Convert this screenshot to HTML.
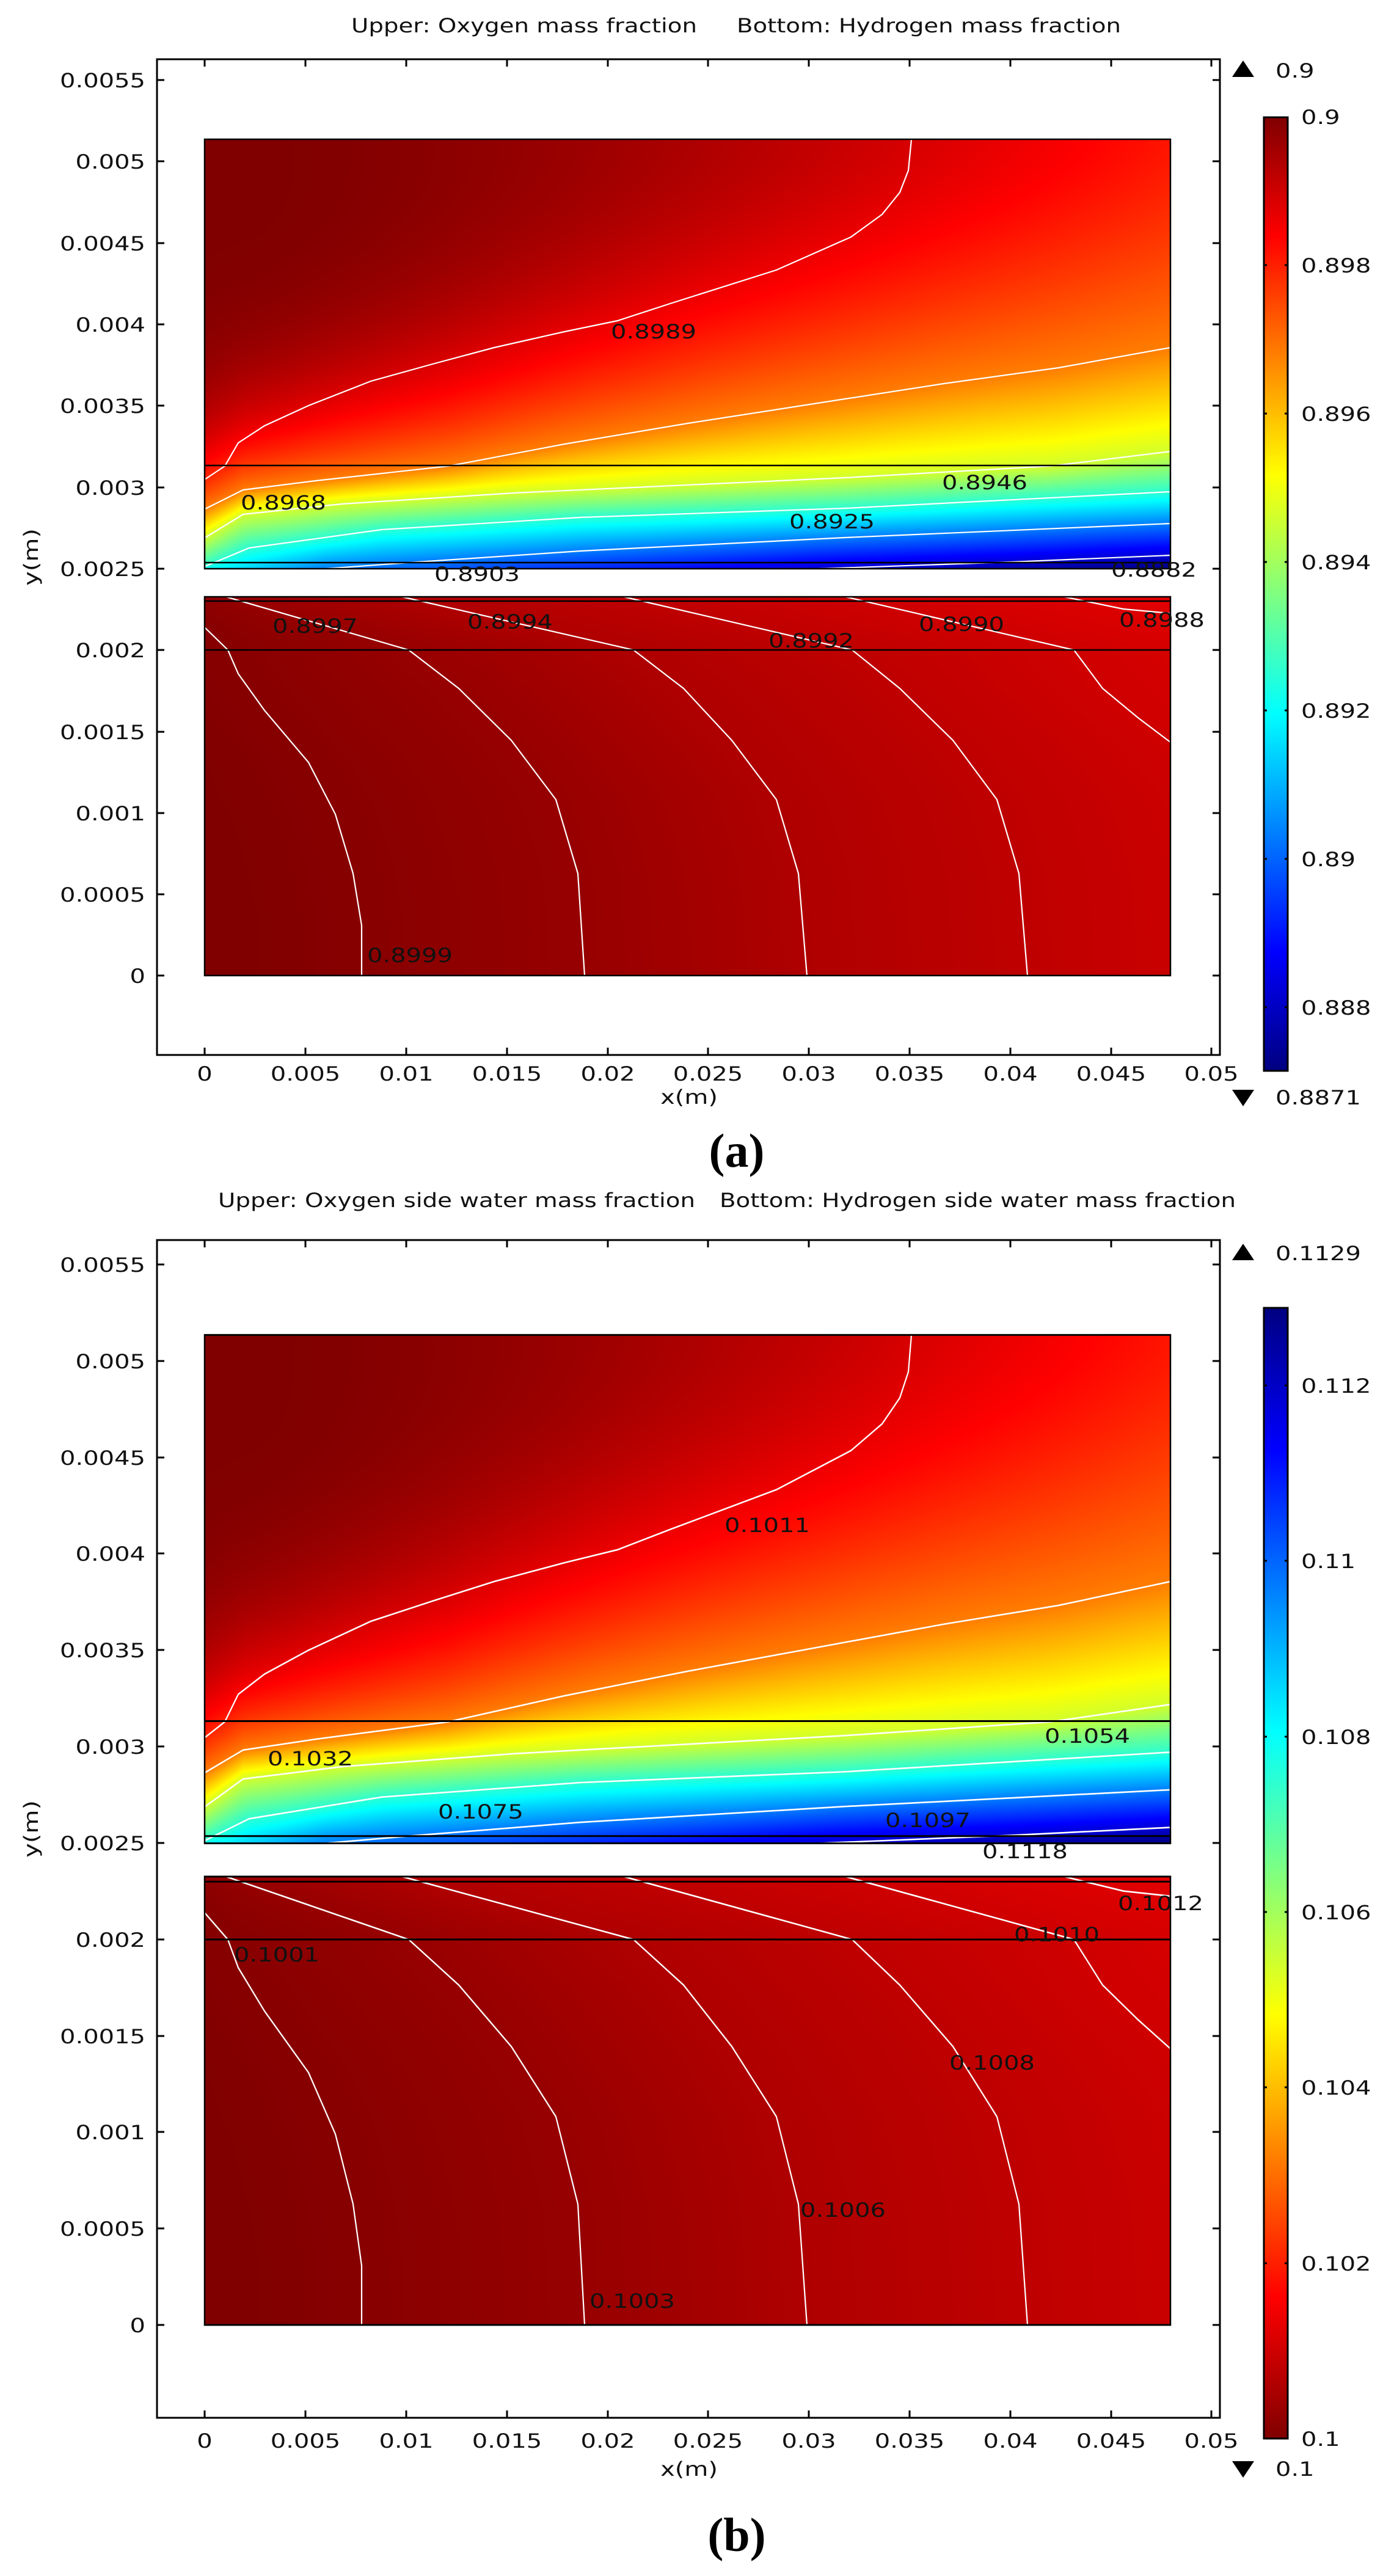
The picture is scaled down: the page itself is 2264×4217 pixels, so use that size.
<!DOCTYPE html>
<html><head><meta charset="utf-8">
<style>
html,body{margin:0;padding:0;background:#fff;}
#wrap{position:relative;width:2264px;height:4217px;overflow:hidden;background:#fff;}
canvas,svg{position:absolute;left:0;top:0;}
text{font-family:"DejaVu Sans","Liberation Sans",sans-serif;fill:#111;}
.t{font-size:32px;}
.cap{font-family:"Liberation Serif",serif;font-weight:bold;font-size:78px;fill:#000;}
</style></head>
<body><div id="wrap">
<canvas id="cv" width="2264" height="4217"></canvas>
<svg width="2264" height="4217" viewBox="0 0 2264 4217" xmlns="http://www.w3.org/2000/svg">
<defs>
<linearGradient id="jetA" x1="0" y1="0" x2="0" y2="1">
<stop offset="0" stop-color="#800000"/><stop offset="0.125" stop-color="#ff0000"/><stop offset="0.375" stop-color="#ffff00"/><stop offset="0.625" stop-color="#00ffff"/><stop offset="0.875" stop-color="#0000ff"/><stop offset="1" stop-color="#000080"/>
</linearGradient>
<linearGradient id="jetB" x1="0" y1="1" x2="0" y2="0">
<stop offset="0" stop-color="#800000"/><stop offset="0.125" stop-color="#ff0000"/><stop offset="0.375" stop-color="#ffff00"/><stop offset="0.625" stop-color="#00ffff"/><stop offset="0.875" stop-color="#0000ff"/><stop offset="1" stop-color="#000080"/>
</linearGradient>
<g id="cont" fill="none" stroke="#fff" stroke-width="2.2">
<polyline points="335,785 368,763 390,725 433,697 505,664 607,624 708,596 809,569 924,543 1011,525 1097,497 1271,442 1393,388 1444,351 1473,315 1487,279 1492,228"/>
<polyline points="336,833 398,802 517,787 734,763 924,727 1126,693 1300,666 1545,628 1733,602 1916,569"/>
<polyline points="336,880 398,842 560,825 842,807 1384,782 1720,763 1916,739"/>
<polyline points="336,927 408,897 625,867 950,847 1384,832 1916,805"/>
<polyline points="533,931 669,921 950,902 1384,880 1916,857"/>
<polyline points="1341,931 1655,920 1916,909"/>
<polyline points="335,1027 373,1064 390,1103 433,1163 505,1248 549,1333 578,1430 592,1515 592,1597"/>
<polyline points="370,977 669,1064 751,1127 837,1212 910,1309 946,1430 957,1597"/>
<polyline points="658,977 1037,1064 1119,1127 1198,1212 1271,1309 1307,1430 1321,1597"/>
<polyline points="1021,977 1395,1064 1473,1127 1560,1212 1632,1309 1668,1430 1682,1597"/>
<polyline points="1384,977 1758,1064 1805,1127 1863,1175 1916,1215"/>
<polyline points="1742,977 1839,997 1916,1004"/>
<g stroke="#000" stroke-width="2.5">
<line x1="335" y1="762" x2="1916" y2="762"/>
<line x1="335" y1="921" x2="1916" y2="921"/>
<line x1="335" y1="984" x2="1916" y2="984"/>
<line x1="335" y1="1064" x2="1916" y2="1064"/>
<rect x="335" y="228" width="1581" height="703"/>
<rect x="335" y="977" width="1581" height="620"/>
</g>
</g>
</defs>

<!-- ===== Panel a ===== -->
<text class="t" x="575" y="53" textLength="566" lengthAdjust="spacingAndGlyphs">Upper: Oxygen mass fraction</text>
<text class="t" x="1206" y="53" textLength="629" lengthAdjust="spacingAndGlyphs">Bottom: Hydrogen mass fraction</text>
<rect x="257" y="97" width="1740" height="1630" fill="none" stroke="#000" stroke-width="3"/>
<use href="#cont"/>
<g stroke="#000" stroke-width="3">
<path d="M257,131h12M257,264h12M257,398h12M257,531h12M257,664h12M257,798h12M257,931h12M257,1064h12M257,1198h12M257,1331h12M257,1464h12M257,1597h12"/>
<path d="M1997,131h-12M1997,264h-12M1997,398h-12M1997,531h-12M1997,664h-12M1997,798h-12M1997,931h-12M1997,1064h-12M1997,1198h-12M1997,1331h-12M1997,1464h-12M1997,1597h-12"/>
<path d="M335,1727v-12M500,1727v-12M665,1727v-12M830,1727v-12M995,1727v-12M1159,1727v-12M1324,1727v-12M1489,1727v-12M1654,1727v-12M1819,1727v-12M1983,1727v-12"/>
<path d="M335,97v12M500,97v12M665,97v12M830,97v12M995,97v12M1159,97v12M1324,97v12M1489,97v12M1654,97v12M1819,97v12M1983,97v12"/>
</g>
<g class="t" text-anchor="end">
<text transform="translate(238,143) scale(1.25,1)">0.0055</text>
<text transform="translate(238,276) scale(1.25,1)">0.005</text>
<text transform="translate(238,410) scale(1.25,1)">0.0045</text>
<text transform="translate(238,543) scale(1.25,1)">0.004</text>
<text transform="translate(238,676) scale(1.25,1)">0.0035</text>
<text transform="translate(238,810) scale(1.25,1)">0.003</text>
<text transform="translate(238,943) scale(1.25,1)">0.0025</text>
<text transform="translate(238,1076) scale(1.25,1)">0.002</text>
<text transform="translate(238,1210) scale(1.25,1)">0.0015</text>
<text transform="translate(238,1343) scale(1.25,1)">0.001</text>
<text transform="translate(238,1476) scale(1.25,1)">0.0005</text>
<text transform="translate(238,1609) scale(1.25,1)">0</text>
</g>
<g class="t" text-anchor="middle">
<text transform="translate(335,1769) scale(1.25,1)">0</text>
<text transform="translate(500,1769) scale(1.25,1)">0.005</text>
<text transform="translate(665,1769) scale(1.25,1)">0.01</text>
<text transform="translate(830,1769) scale(1.25,1)">0.015</text>
<text transform="translate(995,1769) scale(1.25,1)">0.02</text>
<text transform="translate(1159,1769) scale(1.25,1)">0.025</text>
<text transform="translate(1324,1769) scale(1.25,1)">0.03</text>
<text transform="translate(1489,1769) scale(1.25,1)">0.035</text>
<text transform="translate(1654,1769) scale(1.25,1)">0.04</text>
<text transform="translate(1819,1769) scale(1.25,1)">0.045</text>
<text transform="translate(1983,1769) scale(1.25,1)">0.05</text>
<text transform="translate(1128,1807) scale(1.25,1)">x(m)</text>
<text transform="translate(62,912) rotate(-90) scale(1.25,1)">y(m)</text>
</g>
<g class="t" text-anchor="middle" fill="#000">
<text transform="translate(1070,554) scale(1.25,1)">0.8989</text>
<text transform="translate(464,834) scale(1.25,1)">0.8968</text>
<text transform="translate(1612,801) scale(1.25,1)">0.8946</text>
<text transform="translate(1362,865) scale(1.25,1)">0.8925</text>
<text transform="translate(781,951) scale(1.25,1)">0.8903</text>
<text transform="translate(1889,944) scale(1.25,1)">0.8882</text>
<text transform="translate(516,1036) scale(1.25,1)">0.8997</text>
<text transform="translate(835,1029) scale(1.25,1)">0.8994</text>
<text transform="translate(1328,1060) scale(1.25,1)">0.8992</text>
<text transform="translate(1574,1033) scale(1.25,1)">0.8990</text>
<text transform="translate(1902,1026) scale(1.25,1)">0.8988</text>
<text transform="translate(671,1575) scale(1.25,1)">0.8999</text>
</g>
<rect x="2069" y="192" width="39" height="1561" fill="url(#jetA)" stroke="#000" stroke-width="3"/>
<path d="M2069,434h5M2103,434h5M2069,677h5M2103,677h5M2069,920h5M2103,920h5M2069,1163h5M2103,1163h5M2069,1406h5M2103,1406h5M2069,1649h5M2103,1649h5" stroke="#000" stroke-width="3"/>
<g class="t">
<text transform="translate(2130,203) scale(1.25,1)">0.9</text>
<text transform="translate(2130,446) scale(1.25,1)">0.898</text>
<text transform="translate(2130,689) scale(1.25,1)">0.896</text>
<text transform="translate(2130,932) scale(1.25,1)">0.894</text>
<text transform="translate(2130,1175) scale(1.25,1)">0.892</text>
<text transform="translate(2130,1418) scale(1.25,1)">0.89</text>
<text transform="translate(2130,1661) scale(1.25,1)">0.888</text>
<text transform="translate(2088,127) scale(1.25,1)">0.9</text>
<text transform="translate(2088,1808) scale(1.25,1)">0.8871</text>
</g>
<polygon points="2035,99 2053,126 2017,126" fill="#000"/>
<polygon points="2017,1784 2053,1784 2035,1811" fill="#000"/>
<text class="cap" x="1206" y="1910" text-anchor="middle">(a)</text>

<!-- ===== Panel b ===== -->
<text class="t" x="357" y="1976" textLength="781" lengthAdjust="spacingAndGlyphs">Upper: Oxygen side water mass fraction</text>
<text class="t" x="1178" y="1976" textLength="845" lengthAdjust="spacingAndGlyphs">Bottom: Hydrogen side water mass fraction</text>
<rect x="257" y="2030" width="1740" height="1928" fill="none" stroke="#000" stroke-width="3"/>
<use href="#cont" transform="matrix(1,0,0,1.18383,0,1915.42)"/>
<g stroke="#000" stroke-width="3">
<path d="M257,2070h12M257,2228h12M257,2386h12M257,2543h12M257,2701h12M257,2859h12M257,3017h12M257,3175h12M257,3333h12M257,3490h12M257,3648h12M257,3806h12"/>
<path d="M1997,2070h-12M1997,2228h-12M1997,2386h-12M1997,2543h-12M1997,2701h-12M1997,2859h-12M1997,3017h-12M1997,3175h-12M1997,3333h-12M1997,3490h-12M1997,3648h-12M1997,3806h-12"/>
<path d="M335,3958v-12M500,3958v-12M665,3958v-12M830,3958v-12M995,3958v-12M1159,3958v-12M1324,3958v-12M1489,3958v-12M1654,3958v-12M1819,3958v-12M1983,3958v-12"/>
<path d="M335,2030v12M500,2030v12M665,2030v12M830,2030v12M995,2030v12M1159,2030v12M1324,2030v12M1489,2030v12M1654,2030v12M1819,2030v12M1983,2030v12"/>
</g>
<g class="t" text-anchor="end">
<text transform="translate(238,2082) scale(1.25,1)">0.0055</text>
<text transform="translate(238,2240) scale(1.25,1)">0.005</text>
<text transform="translate(238,2398) scale(1.25,1)">0.0045</text>
<text transform="translate(238,2555) scale(1.25,1)">0.004</text>
<text transform="translate(238,2713) scale(1.25,1)">0.0035</text>
<text transform="translate(238,2871) scale(1.25,1)">0.003</text>
<text transform="translate(238,3029) scale(1.25,1)">0.0025</text>
<text transform="translate(238,3187) scale(1.25,1)">0.002</text>
<text transform="translate(238,3345) scale(1.25,1)">0.0015</text>
<text transform="translate(238,3502) scale(1.25,1)">0.001</text>
<text transform="translate(238,3660) scale(1.25,1)">0.0005</text>
<text transform="translate(238,3818) scale(1.25,1)">0</text>
</g>
<g class="t" text-anchor="middle">
<text transform="translate(335,4007) scale(1.25,1)">0</text>
<text transform="translate(500,4007) scale(1.25,1)">0.005</text>
<text transform="translate(665,4007) scale(1.25,1)">0.01</text>
<text transform="translate(830,4007) scale(1.25,1)">0.015</text>
<text transform="translate(995,4007) scale(1.25,1)">0.02</text>
<text transform="translate(1159,4007) scale(1.25,1)">0.025</text>
<text transform="translate(1324,4007) scale(1.25,1)">0.03</text>
<text transform="translate(1489,4007) scale(1.25,1)">0.035</text>
<text transform="translate(1654,4007) scale(1.25,1)">0.04</text>
<text transform="translate(1819,4007) scale(1.25,1)">0.045</text>
<text transform="translate(1983,4007) scale(1.25,1)">0.05</text>
<text transform="translate(1128,4053) scale(1.25,1)">x(m)</text>
<text transform="translate(62,2994) rotate(-90) scale(1.25,1)">y(m)</text>
</g>
<g class="t" text-anchor="middle" fill="#000">
<text transform="translate(1256,2508) scale(1.25,1)">0.1011</text>
<text transform="translate(508,2890) scale(1.25,1)">0.1032</text>
<text transform="translate(1780,2853) scale(1.25,1)">0.1054</text>
<text transform="translate(787,2977) scale(1.25,1)">0.1075</text>
<text transform="translate(1519,2991) scale(1.25,1)">0.1097</text>
<text transform="translate(1678,3042) scale(1.25,1)">0.1118</text>
<text transform="translate(1900,3127) scale(1.25,1)">0.1012</text>
<text transform="translate(1730,3178) scale(1.25,1)">0.1010</text>
<text transform="translate(453,3211) scale(1.25,1)">0.1001</text>
<text transform="translate(1624,3388) scale(1.25,1)">0.1008</text>
<text transform="translate(1380,3629) scale(1.25,1)">0.1006</text>
<text transform="translate(1035,3778) scale(1.25,1)">0.1003</text>
</g>
<rect x="2069" y="2141" width="39" height="1851" fill="url(#jetB)" stroke="#000" stroke-width="3"/>
<path d="M2069,2268h5M2103,2268h5M2069,2555h5M2103,2555h5M2069,2843h5M2103,2843h5M2069,3130h5M2103,3130h5M2069,3417h5M2103,3417h5M2069,3705h5M2103,3705h5" stroke="#000" stroke-width="3"/>
<g class="t">
<text transform="translate(2130,2280) scale(1.25,1)">0.112</text>
<text transform="translate(2130,2567) scale(1.25,1)">0.11</text>
<text transform="translate(2130,2855) scale(1.25,1)">0.108</text>
<text transform="translate(2130,3142) scale(1.25,1)">0.106</text>
<text transform="translate(2130,3429) scale(1.25,1)">0.104</text>
<text transform="translate(2130,3717) scale(1.25,1)">0.102</text>
<text transform="translate(2130,4004) scale(1.25,1)">0.1</text>
<text transform="translate(2088,2063) scale(1.25,1)">0.1129</text>
<text transform="translate(2088,4053) scale(1.25,1)">0.1</text>
</g>
<polygon points="2035,2036 2053,2063 2017,2063" fill="#000"/>
<polygon points="2017,4029 2053,4029 2035,4056" fill="#000"/>
<text class="cap" x="1206" y="4176" text-anchor="middle">(b)</text>
</svg>
</div>
<script>
(function(){
var cv=document.getElementById('cv');var ctx=cv.getContext('2d');
function cl(v){return v<0?0:v>1?1:v;}
function jet(t){var s=1-t;return [cl(Math.min(4*s-1.5,-4*s+4.5)),cl(Math.min(4*s-0.5,-4*s+3.5)),cl(Math.min(4*s+0.5,-4*s+2.5))];}
function ip(p,x){var n=p.length;if(x<=p[0][0]){var a=p[0],b=p[1];return a[1]+(x-a[0])*(b[1]-a[1])/(b[0]-a[0]);}
for(var i=1;i<n;i++){if(x<=p[i][0]){var a=p[i-1],b=p[i];return a[1]+(x-a[0])*(b[1]-a[1])/(b[0]-a[0]);}}
var a=p[n-2],b=p[n-1];return a[1]+(x-a[0])*(b[1]-a[1])/(b[0]-a[0]);}
var L2=[[336,833],[398,802],[517,787],[734,763],[924,727],[1126,693],[1300,666],[1545,628],[1733,602],[1916,569]];
var LA=[[336,880],[398,842],[560,825],[842,807],[1384,782],[1720,763],[1916,739]];
var LB=[[336,927],[408,897],[625,867],[950,847],[1384,832],[1916,805]];
var LC=[[533,931],[669,921],[950,902],[1384,880],[1916,857]];
var LD=[[1341,931],[1655,920],[1916,909]];
var TB=[[335,0.62],[533,0.752],[1341,0.915],[1916,1.0]];
var M=[
[[977,285],[1027,335],[1064,373],[1103,390],[1163,433],[1248,505],[1333,549],[1430,578],[1515,592],[1597,592]],
[[977,370],[1064,669],[1127,751],[1212,837],[1309,910],[1430,946],[1597,957]],
[[977,658],[1064,1037],[1127,1119],[1212,1198],[1309,1271],[1430,1307],[1597,1321]],
[[977,1021],[1064,1395],[1127,1473],[1212,1560],[1309,1632],[1430,1668],[1597,1682]],
[[977,1384],[1064,1758],[1127,1805],[1175,1863],[1215,1916],[1309,2000],[1430,2040],[1597,2050]],
[[977,1742],[1004,1916],[1064,2110],[1127,2190],[1309,2330],[1597,2420]]];
var TL=[0.008,0.023,0.0465,0.062,0.0775,0.093];
var X0=335,Y0=228,W=1581,H=1369;
var img=ctx.createImageData(W,H);var d=img.data;
function put(x,y,t){var c=jet(t);var k=((y-Y0)*W+(x-X0))*4;d[k]=c[0]*255;d[k+1]=c[1]*255;d[k+2]=c[2]*255;d[k+3]=255;}
for(var x=X0;x<X0+W;x++){
 var px=x+0.5,u=(px-335)/1581;
 var q=Math.max(0,(u-0.05)/0.68);
 var ttop=0.085*Math.pow(q,1.6);
 var p=1.3+2.6*Math.exp(-(u-0.1)/0.3);
 var y2=ip(L2,px);
 var kn=[[y2,0.248],[ip(LA,px),0.419],[ip(LB,px),0.581]];
 if(px>=533)kn.push([ip(LC,px),0.752]);
 if(px>=1341)kn.push([ip(LD,px),0.915]);
 var tb=ip(TB,px);
 var k2=[kn[0]];for(var i=1;i<kn.length;i++){if(kn[i][0]>k2[k2.length-1][0]+0.5&&kn[i][0]<930.5)k2.push(kn[i]);}
 k2.push([931,Math.max(tb,k2[k2.length-1][1])]);
 var j=0;
 for(var y=Y0;y<931;y++){var py=y+0.5,t;
  if(py<=y2){var f=(py-228)/(y2-228);t=ttop+(0.248-ttop)*Math.pow(cl(f),p);}
  else{while(j<k2.length-2&&py>k2[j+1][0])j++;var a=k2[j],b=k2[j+1];t=a[1]+(b[1]-a[1])*cl((py-a[0])/(b[0]-a[0]));}
  put(x,y,t);}
 for(var y=931;y<977;y++){var k=((y-Y0)*W+(x-X0))*4;d[k]=d[k+1]=d[k+2]=255;d[k+3]=255;}
}
for(var y=977;y<1597;y++){var py=y+0.5;var xs=[];for(var m=0;m<6;m++)xs.push(ip(M[m],py));
 for(var x=X0;x<X0+W;x++){var px=x+0.5,t;
  if(px<=xs[0]){t=TL[0]-(xs[0]-px)*(TL[1]-TL[0])/(xs[1]-xs[0]);}
  else if(px>=xs[5]){t=TL[5]+(px-xs[5])*(TL[5]-TL[4])/(xs[5]-xs[4]);}
  else{var m=0;while(px>xs[m+1])m++;t=TL[m]+(px-xs[m])*(TL[m+1]-TL[m])/(xs[m+1]-xs[m]);}
  put(x,y,Math.max(0,t));}}
ctx.putImageData(img,X0,Y0);
ctx.imageSmoothingEnabled=true;
ctx.drawImage(cv,X0,Y0,W,H,X0,2185.3,W,H*1.18383);
})();
</script>
</body></html>
